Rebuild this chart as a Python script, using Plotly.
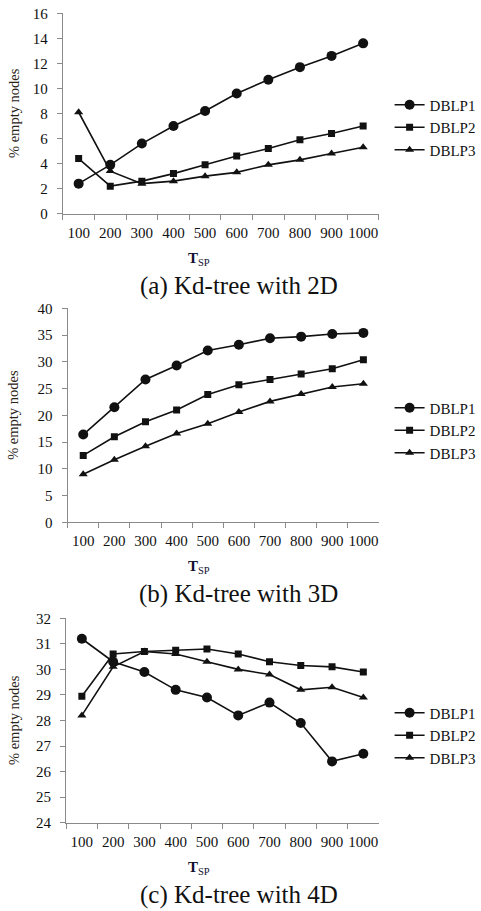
import plotly.graph_objects as go

categories = ["100", "200", "300", "400", "500", "600", "700", "800", "900", "1000"]
series_names = ["DBLP1", "DBLP2", "DBLP3"]

a_dblp1 = [2.4, 3.9, 5.6, 7.0, 8.2, 9.6, 10.7, 11.7, 12.6, 13.6]
a_dblp2 = [4.4, 2.2, 2.6, 3.2, 3.9, 4.6, 5.2, 5.9, 6.4, 7.0]
a_dblp3 = [8.1, 3.4, 2.4, 2.6, 3.0, 3.3, 3.9, 4.3, 4.8, 5.3]

b_dblp1 = [16.4, 21.5, 26.7, 29.3, 32.1, 33.2, 34.4, 34.7, 35.2, 35.4]
b_dblp2 = [12.5, 16.0, 18.8, 21.0, 23.9, 25.7, 26.7, 27.7, 28.7, 30.4]
b_dblp3 = [9.0, 11.7, 14.2, 16.6, 18.4, 20.6, 22.6, 24.0, 25.3, 25.9]

c_dblp1 = [31.2, 30.3, 29.9, 29.2, 28.9, 28.2, 28.7, 27.9, 26.4, 26.7]
c_dblp2 = [28.95, 30.6, 30.7, 30.75, 30.8, 30.6, 30.3, 30.15, 30.1, 29.9]
c_dblp3 = [28.2, 30.1, 30.7, 30.6, 30.3, 30.0, 29.8, 29.2, 29.3, 28.9]

captions = ["(a) Kd-tree with 2D", "(b) Kd-tree with 3D", "(c) Kd-tree with 4D"]
y_ranges = [[0, 16], [0, 40], [24, 32]]
y_dticks = [2, 5, 1]

W, H = 481, 911
FONT = "Liberation Serif, serif"
INK = "#111111"
AXC = "#8a8a8a"

panels = [
    dict(top=13.3, bottom=213.7, left=65),
    dict(top=308.3, bottom=522.3, left=70),
    dict(top=618.3, bottom=822.7, left=68.5),
]
legend_centers = [127.5, 430.5, 735.5]
right = 392

symbols = ["circle", "square", "triangle-up"]
sizes = [10, 7, 8]
data = [
    [a_dblp1, a_dblp2, a_dblp3],
    [b_dblp1, b_dblp2, b_dblp3],
    [c_dblp1, c_dblp2, c_dblp3],
]

fig = go.Figure()
annotations = []
layout = {}
for i, p in enumerate(panels):
    sfx = "" if i == 0 else str(i + 1)
    xa, ya = "x" + sfx, "y" + sfx
    lg = "legend" + sfx
    for j, name in enumerate(series_names):
        fig.add_trace(go.Scatter(
            x=categories, y=data[i][j], name=name, mode="lines+markers",
            xaxis=xa, yaxis=ya, legend=lg,
            line=dict(color=INK, width=1.6),
            marker=dict(symbol=symbols[j], size=sizes[j], color=INK,
                        line=dict(width=0)),
        ))
    y0 = (H - p["bottom"]) / H
    y1 = (H - p["top"]) / H
    layout["xaxis" + sfx] = dict(
        domain=[p["left"] / W, right / W], anchor=ya, type="category",
        range=[-0.5, 9.5], tickson="boundaries", ticks="outside", ticklen=5,
        tickcolor=AXC, showline=True, linecolor=AXC, linewidth=1.3,
        showgrid=False, zeroline=False, ticklabelstandoff=5, tickangle=0,
        automargin=False,
        tickfont=dict(family=FONT, size=15, color=INK),
    )
    layout["yaxis" + sfx] = dict(
        domain=[y0, y1], anchor=xa, range=y_ranges[i], dtick=y_dticks[i],
        ticks="outside", ticklen=5, tickcolor=AXC, showline=True,
        linecolor=AXC, linewidth=1.3, showgrid=False, zeroline=False,
        ticklabelstandoff=6, automargin=False,
        tickfont=dict(family=FONT, size=15, color=INK),
    )
    mid_y = (y0 + y1) / 2
    layout[lg] = dict(
        x=403 / W, xanchor="left", y=(H - legend_centers[i]) / H,
        yanchor="middle",
        font=dict(family=FONT, size=15, color=INK), bgcolor="rgba(0,0,0,0)",
        itemwidth=30, tracegroupgap=0,
    )
    annotations.append(dict(
        text="% empty nodes", textangle=-90, xref="paper", yref="paper",
        x=14 / W, y=mid_y, xanchor="center",
        yanchor="middle", showarrow=False,
        font=dict(family=FONT, size=14.5, color="#2a2418"),
    ))
    annotations.append(dict(
        text="<b>T</b><sub>SP</sub>", xref="paper", yref="paper",
        x=206 / W, y=(H - (p["bottom"] + 45)) / H, xanchor="center",
        yanchor="middle", showarrow=False,
        font=dict(family=FONT, size=15, color="#101030"),
    ))
    annotations.append(dict(
        text=captions[i], xref="paper", yref="paper",
        x=247 / W, y=(H - (p["bottom"] + 72)) / H, xanchor="center",
        yanchor="middle", showarrow=False,
        font=dict(family=FONT, size=25, color=INK),
    ))

fig.update_layout(
    width=W, height=H, margin=dict(l=0, r=0, t=0, b=0),
    paper_bgcolor="white", plot_bgcolor="white",
    showlegend=True, annotations=annotations, **layout,
)
fig.write_html(
    "out.html",
    config={"displayModeBar": False},
    post_script="document.body.style.margin='0';document.body.style.overflow='hidden';",
)
